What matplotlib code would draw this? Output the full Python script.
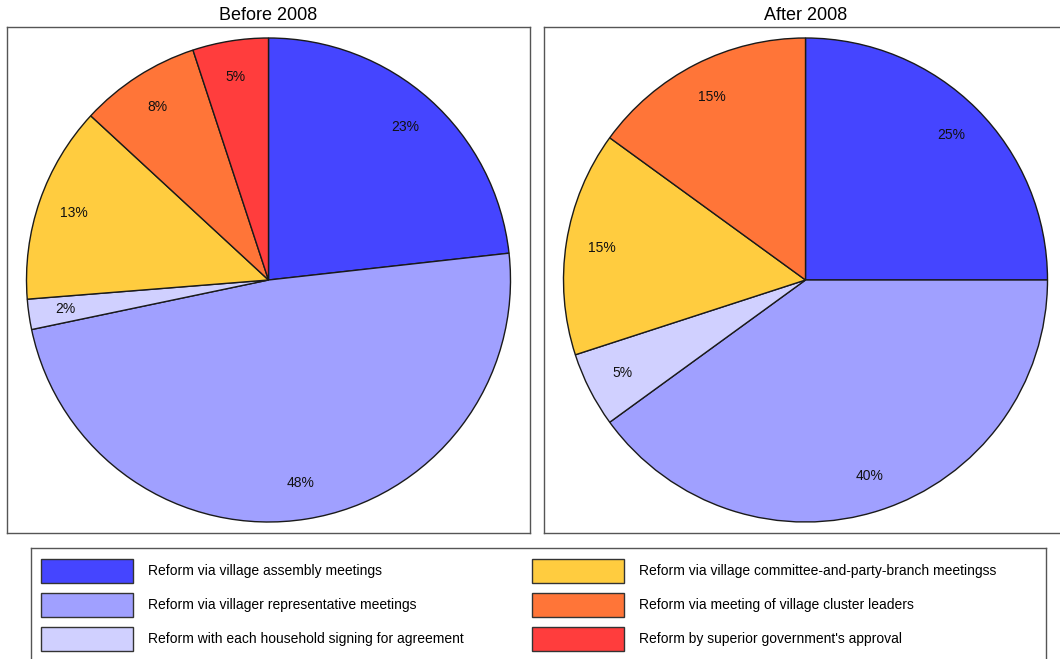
import matplotlib.pyplot as plt
from matplotlib.patches import Patch

plt.rcParams['font.family'] = ['Liberation Sans', 'DejaVu Sans']

# Shares of reform approaches (percent)
categories = [
    "Reform via village assembly meetings",
    "Reform via villager representative meetings",
    "Reform with each household signing for agreement",
    "Reform via village committee-and-party-branch meetingss",
    "Reform via meeting of village cluster leaders",
    "Reform by superior government's approval",
]
before_2008 = [23, 48, 2, 13, 8, 5]
after_2008 = [25, 40, 5, 15, 15, 0]
titles = ["Before 2008", "After 2008"]
colors = ["#4545FF", "#A0A0FF", "#D0D0FF", "#FFCC3F", "#FF7538", "#FF3D3D"]

W, H = 1060, 659
fig = plt.figure(figsize=(W / 100, H / 100), dpi=100)


def px_axes(x0, y0, x1, y1):
    # axes from pixel box (top-left origin)
    return fig.add_axes([x0 / W, 1 - y1 / H, (x1 - x0) / W, (y1 - y0) / H])


radius_px = 242
boxes = [(7, 27, 530, 533), (544, 27, 1067, 533)]

for box, title, vals in zip(boxes, titles, [before_2008, after_2008]):
    ax = px_axes(*box)
    keep = [i for i, v in enumerate(vals) if v > 0]
    v = [vals[i] for i in keep]
    c = [colors[i] for i in keep]
    total = sum(v)
    ax.pie(v, colors=c, startangle=90, counterclock=False,
           autopct=lambda p, t=total: f"{p * t / 100:.0f}%",
           pctdistance=0.85,
           wedgeprops=dict(edgecolor="#1a1a1a", linewidth=1),
           textprops=dict(fontsize=10, color="#111111"))
    wpx = box[2] - box[0]
    hpx = box[3] - box[1]
    ax.set_aspect('auto')
    ax.set_xlim(-wpx / 2 / radius_px, wpx / 2 / radius_px)
    ax.set_ylim(-hpx / 2 / radius_px, hpx / 2 / radius_px)
    ax.set_frame_on(True)
    for s in ax.spines.values():
        s.set_color("#555555")
        s.set_linewidth(1)
    ax.set_xticks([])
    ax.set_yticks([])
    ax.set_title(title, fontsize=13, pad=5)

# Legend panel
lax = px_axes(31, 548, 1046, 700)
lax.set_xticks([])
lax.set_yticks([])
for s in lax.spines.values():
    s.set_color("#555555")
    s.set_linewidth(1)

handles = [Patch(facecolor=col, edgecolor="#333333", linewidth=1, label=lab)
           for col, lab in zip(colors, categories)]
fs = 10
fpx = fs * 100 / 72
# legend patch box: drawn height = fs*(0.65*h + 0.245)
hh = (24 / fpx - 0.245) / 0.65
for k, x0 in enumerate([41, 532]):
    leg = fig.legend(handles=handles[3 * k:3 * k + 3], loc='upper left',
                     bbox_to_anchor=(x0 / W, 1 - 559 / H), frameon=False,
                     fontsize=fs, borderpad=0, borderaxespad=0,
                     handlelength=92 / fpx, handleheight=hh,
                     handletextpad=15 / fpx,
                     labelspacing=(34 - 24) / fpx)

fig.savefig("out.png", dpi=100)
